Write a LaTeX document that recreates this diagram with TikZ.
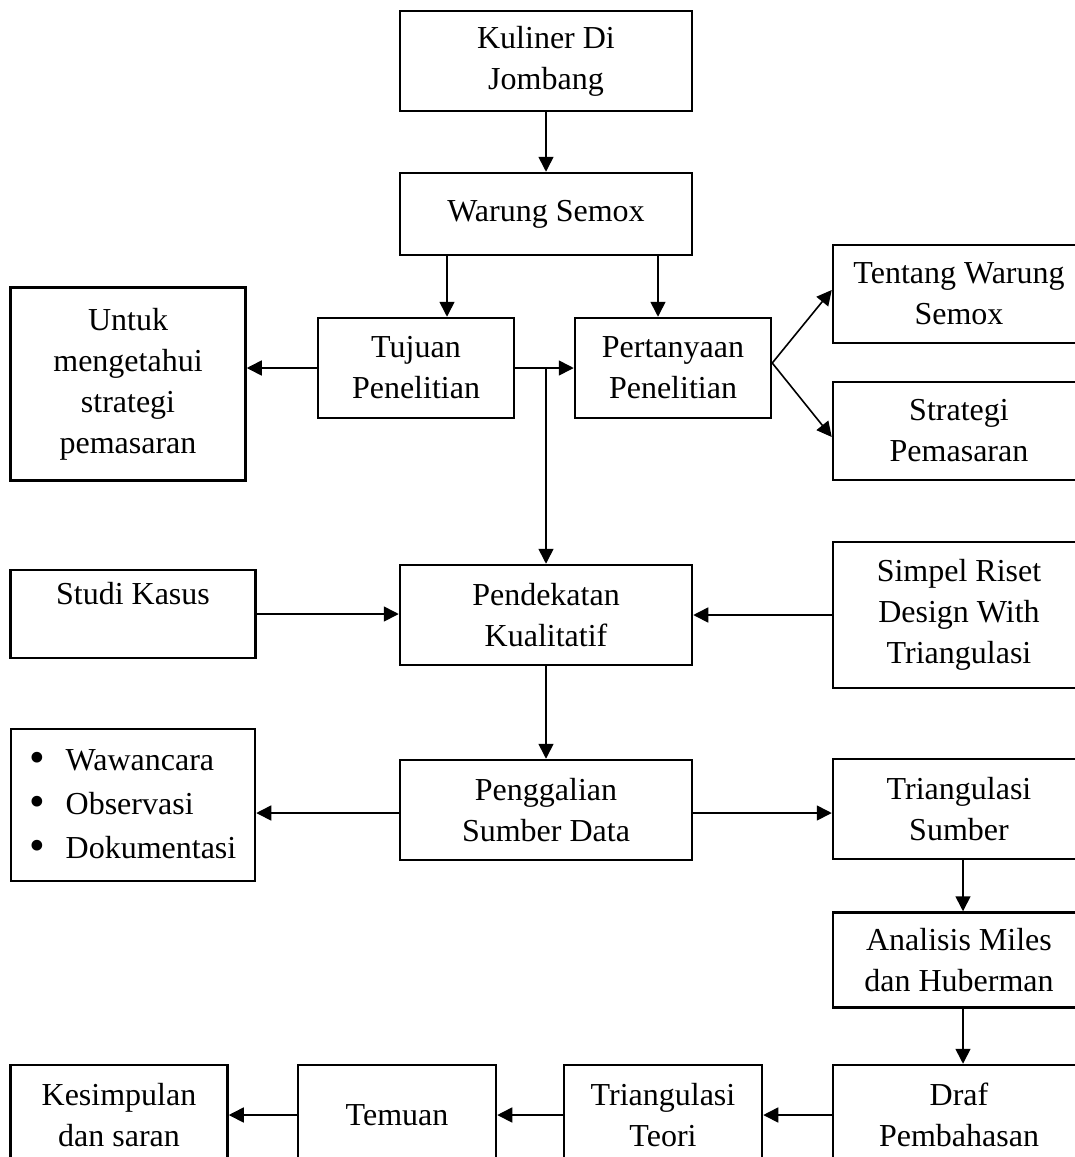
\documentclass[tikz,border=0pt]{standalone}
\usepackage{fontspec}
\usepackage{graphicx}
\setmainfont{Liberation Serif}
\usetikzlibrary{arrows.meta}
\tikzset{>/.tip={Triangle[length=15pt,width=15pt]},
  kotak/.style={draw, line width=2.5pt, align=center, inner sep=0pt,
    font=\fontsize{32}{41}\selectfont}}
\newcommand{\butir}[1]{\makebox[36pt][l]{\raisebox{-0.07em}{\scalebox{1.4}{\textbullet}}}#1}

\begin{document}
\begin{tikzpicture}[x=1pt,y=-1pt,line width=1.6pt]
\useasboundingbox (0,0) rectangle (1075,1157);
\clip (0,0) rectangle (1075,1157);
\node[kotak, minimum width=292, minimum height=100] (kuliner) at (546,61) {Kuliner Di\\Jombang};
\node[kotak, minimum width=292, minimum height=82] (warung) at (546,214) {Warung Semox};
\node[kotak, minimum width=196, minimum height=100] (tujuan) at (416,368) {Tujuan\\Penelitian};
\node[kotak, minimum width=196, minimum height=100] (tanya) at (673,368) {Pertanyaan\\Penelitian};
\node[kotak, minimum width=235, minimum height=193] (untuk) at (128,384) {Untuk\\mengetahui\\strategi\\pemasaran};
\node[kotak, minimum width=252, minimum height=98] (tentang) at (959,294) {Tentang Warung\\Semox};
\node[kotak, minimum width=252, minimum height=98] (strategi) at (959,431) {Strategi\\Pemasaran};
\node[kotak, minimum width=245, minimum height=88] (studi) at (133,614) {Studi Kasus\\\mbox{}};
\node[kotak, minimum width=292, minimum height=100] (kualitatif) at (546,615) {Pendekatan\\Kualitatif};
\node[kotak, minimum width=252, minimum height=146] (simpel) at (959,615) {Simpel Riset\\Design With\\Triangulasi};
\node[kotak, minimum width=244, minimum height=152, align=left] (metode) at (133,805) {\butir{Wawancara}\\[3pt]\butir{Observasi}\\[3pt]\butir{Dokumentasi}};
\node[kotak, minimum width=292, minimum height=100] (gali) at (546,810) {Penggalian\\Sumber Data};
\node[kotak, minimum width=252, minimum height=100] (trisumber) at (959,809) {Triangulasi\\Sumber};
\node[kotak, minimum width=252, minimum height=95] (analisis) at (959,960) {Analisis Miles\\dan Huberman};
\node[kotak, minimum width=252, minimum height=100] (draf) at (959,1115) {Draf\\Pembahasan};
\node[kotak, minimum width=198, minimum height=100] (teori) at (663,1115) {Triangulasi\\Teori};
\node[kotak, minimum width=198, minimum height=100] (temuan) at (397,1115) {Temuan};
\node[kotak, minimum width=217, minimum height=100] (simpulan) at (119,1115) {Kesimpulan\\dan saran};

\draw[->] (kuliner) -- (warung);
\draw[->] ([xshift=31]tujuan.north |- warung.south) -- ([xshift=31]tujuan.north);
\draw[->] ([xshift=-15]tanya.north |- warung.south) -- ([xshift=-15]tanya.north);
\draw[->] (tujuan.east) -- (tanya.west);
\draw[->] (tujuan.east -| kualitatif.north) -- (kualitatif.north);
\draw[->] (tujuan.west) -- (tujuan.west -| untuk.east);
\draw[->] ([yshift=5]tanya.east) -- ([yshift=4]tentang.west);
\draw[->] ([yshift=5]tanya.east) -- ([yshift=-6]strategi.west);
\draw[->] (studi.east) -- (studi.east -| kualitatif.west);
\draw[->] (simpel.west) -- (kualitatif.east);
\draw[->] (kualitatif) -- (gali);
\draw[->] ([yshift=-3]gali.west) -- ([yshift=-3]gali.west -| metode.east);
\draw[->] ([yshift=-3]gali.east) -- ([yshift=-3]gali.east -| trisumber.west);
\draw[->] ([xshift=4]trisumber.south) -- ([xshift=4]analisis.north);
\draw[->] ([xshift=4]analisis.south) -- ([xshift=4]draf.north);
\draw[->] (draf) -- (teori);
\draw[->] (teori) -- (temuan);
\draw[->] (temuan) -- (simpulan);
\end{tikzpicture}
\end{document}
